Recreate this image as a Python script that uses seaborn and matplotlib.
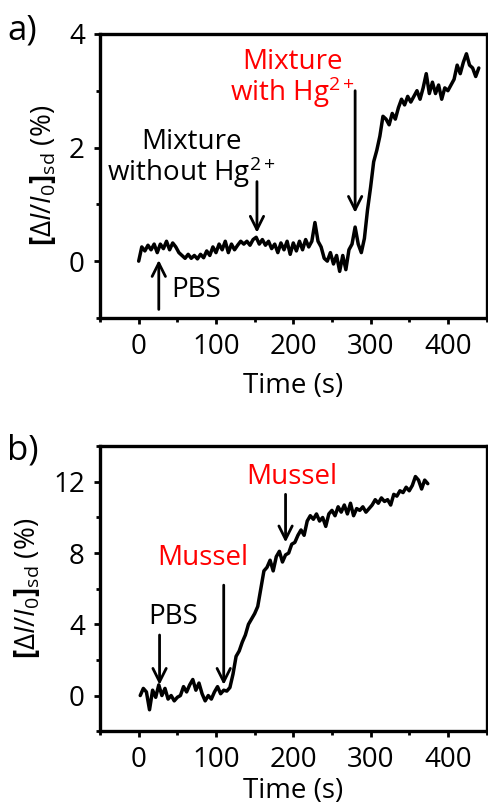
import numpy as np
import pandas as pd
import matplotlib
matplotlib.use("Agg")
import matplotlib.pyplot as plt
import seaborn as sns

sns.set_style('ticks')
plt.rcParams['font.family'] = ['Open Sans', 'DejaVu Sans']
plt.rcParams['mathtext.fontset'] = 'custom'
plt.rcParams['mathtext.rm'] = 'Open Sans'
plt.rcParams['mathtext.it'] = 'Open Sans:italic'
plt.rcParams['mathtext.bf'] = 'Open Sans:bold'
for key in ['text.color', 'axes.labelcolor', 'xtick.color', 'ytick.color',
            'axes.edgecolor']:
    plt.rcParams[key] = 'black'

# panel a: signal vs time, PBS / mixture without Hg / mixture with Hg
time_a = list(range(0, 441, 4))
signal_a = [0.0, 0.25, 0.18, 0.28, 0.2, 0.3, 0.15, 0.3, 0.22, 0.35,
            0.2, 0.32, 0.25, 0.15, 0.1, 0.05, 0.12, 0.05, 0.1, 0.04,
            0.12, 0.06, 0.18, 0.1, 0.25, 0.15, 0.3, 0.2, 0.35, 0.15,
            0.3, 0.2, 0.28, 0.35, 0.3, 0.35, 0.28, 0.38, 0.42, 0.3,
            0.38, 0.28, 0.35, 0.22, 0.3, 0.15, 0.32, 0.2, 0.35, 0.12,
            0.32, 0.18, 0.35, 0.2, 0.38, 0.25, 0.35, 0.68, 0.35, 0.25,
            0.05, 0.0, 0.15, -0.05, 0.1, -0.18, 0.1, -0.15, 0.2, 0.3,
            0.6, 0.3, 0.15, 0.4, 0.9, 1.3, 1.75, 1.95, 2.2, 2.55,
            2.5, 2.4, 2.6, 2.5, 2.7, 2.85, 2.75, 2.9, 2.8, 2.9,
            3.0, 2.85, 3.05, 3.3, 2.95, 3.15, 2.95, 3.1, 2.85, 3.05,
            3.0, 3.1, 3.2, 3.45, 3.3, 3.5, 3.65, 3.45, 3.4, 3.25,
            3.4]

# panel b: signal vs time, PBS / mussel / mussel
time_b = list(range(2, 375, 4))
signal_b = [0.0, 0.4, 0.2, -0.8, 0.3, -0.1, 0.6, 0.0, 0.4, -0.2,
            0.0, -0.3, -0.1, 0.0, 0.5, 0.2, 0.6, 0.9, 0.3, 0.7,
            0.1, -0.3, 0.0, -0.2, 0.2, 0.5, 0.1, 0.3, 0.25, 0.45,
            1.2, 2.2, 2.5, 3.0, 3.4, 4.0, 4.3, 4.6, 5.0, 6.0,
            7.0, 7.2, 7.6, 7.0, 7.8, 8.1, 7.5, 7.9, 8.0, 8.5,
            8.6, 9.0, 9.3, 9.0, 9.8, 10.1, 9.9, 10.2, 9.8, 10.0,
            9.5, 10.2, 10.4, 10.1, 10.6, 10.3, 10.7, 10.2, 10.8, 10.1,
            10.5, 10.4, 10.6, 10.3, 10.5, 10.7, 11.0, 10.8, 11.1, 10.9,
            11.0, 10.7, 11.3, 11.2, 11.5, 11.4, 11.7, 11.5, 11.8, 12.3,
            12.1, 11.6, 12.1, 11.9]

df_a = pd.DataFrame({'time': time_a, 'signal': signal_a})
df_b = pd.DataFrame({'time': time_b, 'signal': signal_b})

ylab = r'$\mathbf{[}\Delta I/I_0\mathbf{]}_{\mathrm{sd}}$ (%)'
fs = 20

fig = plt.figure(figsize=(4.88, 8.07), dpi=100)
ax_a = fig.add_axes([0.205, 0.606, 0.792, 0.352])
ax_b = fig.add_axes([0.205, 0.094, 0.792, 0.353])

arrow = dict(arrowstyle='->', lw=2, color='black', mutation_scale=24,
             shrinkA=0, shrinkB=0)

for ax, df in [(ax_a, df_a), (ax_b, df_b)]:
    sns.lineplot(data=df, x='time', y='signal', ax=ax, color='black',
                 lw=2.5, estimator=None)
    ax.set_xlim(-50, 450)
    ax.set_xticks([0, 100, 200, 300, 400])
    ax.set_xticks(np.arange(-50, 451, 50), minor=True)
    ax.set_ylabel(ylab, fontsize=fs, labelpad=8)
    for s in ax.spines.values():
        s.set_linewidth(2.4)
    ax.tick_params(which='both', direction='out', width=2, labelsize=fs)
    ax.tick_params(which='major', length=4, pad=7)
    ax.tick_params(which='minor', length=3)

ax_a.set_xlabel('Time (s)', fontsize=fs, labelpad=8)
ax_b.set_xlabel('Time (s)', fontsize=fs, labelpad=2)

ax_a.set_ylim(-1, 4)
ax_a.set_yticks([0, 2, 4])
ax_a.set_yticks([-1, 1, 3], minor=True)
ax_b.set_ylim(-2, 14)
ax_b.set_yticks([0, 4, 8, 12])
ax_b.set_yticks([-2, 2, 6, 10, 14], minor=True)

# annotations panel a
ax_a.annotate('', xy=(26, 0.02), xytext=(26, -0.85), arrowprops=arrow)
ax_a.text(42, -0.5, 'PBS', fontsize=fs, va='center', ha='left')
ax_a.annotate('', xy=(153, 0.5), xytext=(153, 1.4), arrowprops=arrow)
ax_a.text(68, 1.8, 'Mixture\nwithout Hg$^{2+}$', fontsize=fs, ha='center',
          va='center', linespacing=0.95)
ax_a.annotate('', xy=(280, 0.85), xytext=(280, 3.0), arrowprops=arrow)
ax_a.text(199, 3.2, 'Mixture\nwith Hg$^{2+}$', fontsize=fs, ha='center',
          va='center', color='#ff0000', linespacing=0.95)

# annotations panel b
ax_b.annotate('', xy=(27, 0.6), xytext=(27, 3.4), arrowprops=arrow)
ax_b.text(45, 4.4, 'PBS', fontsize=fs, ha='center', va='center')
ax_b.annotate('', xy=(110, 0.6), xytext=(110, 6.2), arrowprops=arrow)
ax_b.text(83, 7.7, 'Mussel', fontsize=fs, ha='center', va='center',
          color='#ff0000')
ax_b.annotate('', xy=(190, 8.6), xytext=(190, 11.3), arrowprops=arrow)
ax_b.text(198, 12.3, 'Mussel', fontsize=fs, ha='center', va='center',
          color='#ff0000')

fig.text(0.015, 0.962, 'a)', fontsize=25, va='center')
fig.text(0.015, 0.442, 'b)', fontsize=25, va='center')

plt.savefig('out.png', dpi=100)
